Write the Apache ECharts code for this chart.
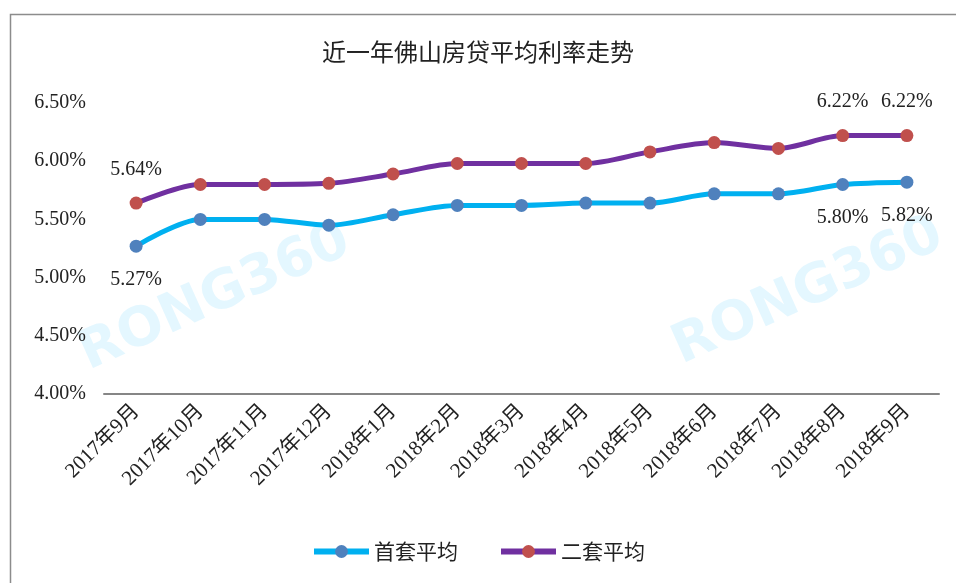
<!DOCTYPE html>
<html lang="zh">
<head>
<meta charset="utf-8" />
<title>近一年佛山房贷平均利率走势</title>
<script src="https://cdn.jsdelivr.net/npm/echarts@6/dist/echarts.min.js"></script>
<style>
  html, body { margin: 0; padding: 0; background: #fff; }
  #main { width: 956px; height: 583px; }
</style>
</head>
<body>
<div id="main"></div>
<script>
// months on the x axis
var months = ['2017年9月', '2017年10月', '2017年11月', '2017年12月', '2018年1月', '2018年2月',
  '2018年3月', '2018年4月', '2018年5月', '2018年6月', '2018年7月', '2018年8月', '2018年9月'];
// 首套平均 (%)
var firstHome = [5.27, 5.50, 5.50, 5.45, 5.54, 5.62, 5.62, 5.64, 5.64, 5.72, 5.72, 5.80, 5.82];
// 二套平均 (%)
var secondHome = [5.64, 5.80, 5.80, 5.81, 5.89, 5.98, 5.98, 5.98, 6.08, 6.16, 6.11, 6.22, 6.22];
// which points carry a value label
var labelIdx = [0, 11, 12];

var numFont = '"Liberation Serif", "Noto Sans CJK SC", serif';
var cjkFont = '"Noto Sans CJK SC", "Liberation Serif", serif';

function pct(v) { return v.toFixed(2) + '%'; }

function withLabels(arr, pos) {
  return arr.map(function (v, i) {
    if (labelIdx.indexOf(i) < 0) return v;
    return {
      value: v,
      label: {
        show: true, position: pos, distance: 17,
        formatter: function (p) { return pct(p.value); },
        color: '#222', fontSize: 20, fontFamily: numFont
      }
    };
  });
}

var myChart = echarts.init(document.getElementById('main'));
var option = {
  backgroundColor: '#fff',
  animation: false,
  title: {
    text: '近一年佛山房贷平均利率走势',
    left: 'center', top: 35,
    textStyle: { fontSize: 24, fontWeight: 'normal', color: '#222', fontFamily: cjkFont }
  },
  graphic: [
    { type: 'rect', left: 8, top: 12, shape: { width: 1000, height: 700 }, silent: true,
      style: { fill: 'none', stroke: '#8c8c8c', lineWidth: 1.5 }, z: -1 },
    { type: 'text', x: 215, y: 298, rotation: 0.42, silent: true, z: -1,
      style: { text: 'RONG360', fill: 'rgba(120,215,255,0.2)', font: 'bold 54px "DejaVu Sans", sans-serif',
        align: 'center', verticalAlign: 'middle' } },
    { type: 'text', x: 808, y: 292, rotation: 0.42, silent: true, z: -1,
      style: { text: 'RONG360', fill: 'rgba(120,215,255,0.2)', font: 'bold 54px "DejaVu Sans", sans-serif',
        align: 'center', verticalAlign: 'middle' } }
  ],
  legend: {
    bottom: 16, left: 'center',
    itemWidth: 55, itemHeight: 16, itemGap: 40,
    lineStyle: { width: 6 },
    textStyle: { fontSize: 21, color: '#222', fontFamily: cjkFont },
    data: ['首套平均', '二套平均']
  },
  grid: { left: 104, right: 17, top: 103, bottom: 189 },
  xAxis: {
    type: 'category',
    data: months,
    boundaryGap: true,
    axisLine: { lineStyle: { color: '#868686', width: 2 } },
    axisTick: { show: false },
    axisLabel: { rotate: 45, fontSize: 21, color: '#222', margin: 14, fontFamily: numFont, interval: 0 }
  },
  yAxis: {
    type: 'value',
    min: 4, max: 6.5, interval: 0.5,
    axisLine: { show: false },
    axisTick: { show: false },
    splitLine: { show: false },
    axisLabel: { formatter: pct, fontSize: 20, color: '#222', margin: 18, fontFamily: numFont }
  },
  series: [
    {
      name: '首套平均', type: 'line', smooth: 0.3,
      data: withLabels(firstHome, 'bottom'),
      symbol: 'circle', symbolSize: 13,
      lineStyle: { color: '#00B0F0', width: 5 },
      itemStyle: { color: '#4F81BD' }
    },
    {
      name: '二套平均', type: 'line', smooth: 0.3,
      data: withLabels(secondHome, 'top'),
      symbol: 'circle', symbolSize: 13,
      lineStyle: { color: '#7030A0', width: 5 },
      itemStyle: { color: '#C0504D' }
    }
  ]
};
myChart.setOption(option);
</script>
</body>
</html>
